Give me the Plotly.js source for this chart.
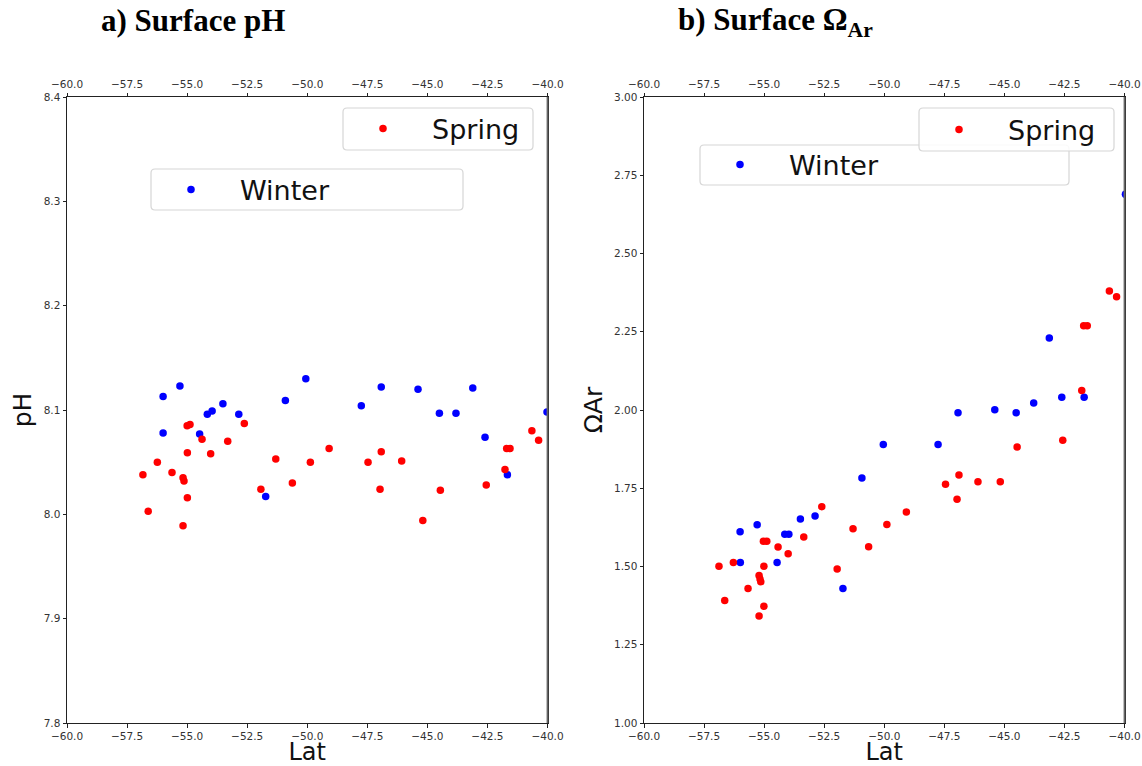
<!DOCTYPE html>
<html>
<head>
<meta charset="utf-8">
<script src="https://cdn.plot.ly/plotly-3.0.1.min.js"></script>
<style>html,body{margin:0;padding:0;background:#fff;}#chart{width:1142px;height:766px;}</style>
</head>
<body>
<div id="chart"></div>
<script>
// ---------- data ----------
// a) Surface pH
const phWinterLat = [-56.00, -55.30, -56.00, -54.48, -54.16, -53.96, -53.51, -52.85, -51.73, -50.91,
                     -50.06, -47.75, -46.92, -45.39, -44.50, -43.81, -43.11, -42.60, -41.67, -40.02];
const phWinter    = [8.113, 8.123, 8.078, 8.077, 8.096, 8.099, 8.106, 8.096, 8.017, 8.109,
                     8.130, 8.104, 8.122, 8.120, 8.097, 8.097, 8.121, 8.074, 8.038, 8.098];
const phSpringLat = [-56.84, -56.62, -56.24, -55.63, -55.17, -55.13, -55.17, -54.99, -54.99, -55.00,
                     -54.88, -54.38, -54.02, -53.31, -52.62, -51.93, -51.31, -50.62, -49.87, -49.09,
                     -47.47, -46.97, -46.92, -46.07, -45.19, -44.46, -42.55, -41.77, -41.70, -41.56,
                     -40.65, -40.37];
const phSpring    = [8.038, 8.003, 8.050, 8.040, 8.035, 8.032, 7.989, 8.016, 8.059, 8.085,
                     8.086, 8.072, 8.058, 8.070, 8.087, 8.024, 8.053, 8.030, 8.050, 8.063,
                     8.050, 8.024, 8.060, 8.051, 7.994, 8.023, 8.028, 8.043, 8.063, 8.063,
                     8.080, 8.071];
// b) Surface Omega Ar
const arWinterLat = [-55.99, -56.00, -55.29, -54.46, -54.14, -53.97, -53.49, -52.88, -51.72, -50.93,
                     -50.04, -47.76, -46.93, -45.40, -44.51, -43.78, -43.13, -42.61, -41.68, -39.96];
const arWinter    = [1.513, 1.611, 1.633, 1.513, 1.603, 1.603, 1.652, 1.661, 1.430, 1.783,
                     1.890, 1.890, 1.991, 2.001, 1.991, 2.022, 2.230, 2.041, 2.041, 2.689];
const arSpringLat = [-56.88, -56.64, -56.28, -55.67, -55.21, -55.17, -55.14, -55.21, -55.01, -55.01,
                     -55.03, -54.89, -54.42, -54.00, -53.35, -52.60, -51.96, -51.30, -50.65, -49.89,
                     -49.08, -47.45, -46.97, -46.89, -46.10, -45.17, -44.47, -42.57, -41.78, -41.70,
                     -41.55, -40.63, -40.33];
const arSpring    = [1.501, 1.391, 1.513, 1.430, 1.471, 1.460, 1.451, 1.342, 1.373, 1.501,
                     1.581, 1.581, 1.562, 1.541, 1.594, 1.691, 1.492, 1.621, 1.563, 1.634,
                     1.674, 1.763, 1.715, 1.792, 1.771, 1.771, 1.882, 1.903, 2.062, 2.269,
                     2.269, 2.380, 2.362];

const seriesNames = ['Winter', 'Spring'];
const panelTitles = ['a) Surface pH', 'b) Surface Ω<sub>Ar</sub>'];
const xTitle = 'Lat';
const yTitles = ['pH', 'ΩAr'];

// ---------- layout helpers ----------
const W = 1142, H = 766;
const fx = p => p / W;
const fy = p => 1 - p / H;
const BLUE = '#0000ff', RED = '#ff0000';
const SANS = 'DejaVu Sans, sans-serif';

function roundBox(x0, y0, x1, y1, r) {
  const X0 = fx(x0), X1 = fx(x1), Y0 = fy(y0), Y1 = fy(y1);
  const rx = r / W, ry = r / H;
  return 'M' + (X0 + rx) + ',' + Y0 +
    ' L' + (X1 - rx) + ',' + Y0 + ' Q' + X1 + ',' + Y0 + ' ' + X1 + ',' + (Y0 - ry) +
    ' L' + X1 + ',' + (Y1 + ry) + ' Q' + X1 + ',' + Y1 + ' ' + (X1 - rx) + ',' + Y1 +
    ' L' + (X0 + rx) + ',' + Y1 + ' Q' + X0 + ',' + Y1 + ' ' + X0 + ',' + (Y1 + ry) +
    ' L' + X0 + ',' + (Y0 - ry) + ' Q' + X0 + ',' + Y0 + ' ' + (X0 + rx) + ',' + Y0 + ' Z';
}
function boxShape(x0, y0, x1, y1) {
  return {type: 'path', xref: 'paper', yref: 'paper', path: roundBox(x0, y0, x1, y1, 4),
          fillcolor: 'rgba(255,255,255,0.85)', line: {color: '#d6d6d6', width: 1.2}, layer: 'above'};
}
function rightSpine(xp) {
  return {type: 'line', xref: 'paper', yref: 'paper', x0: fx(xp), x1: fx(xp), y0: fy(723), y1: fy(97),
          line: {color: '#666', width: 1.8}, layer: 'above'};
}

const mk = c => ({color: c, size: 7.5, line: {width: 0}});

const traces = [
  {type: 'scatter', mode: 'markers', x: phWinterLat, y: phWinter, name: seriesNames[0],
   marker: mk(BLUE), xaxis: 'x', yaxis: 'y', legend: 'legend2', hoverinfo: 'x+y'},
  {type: 'scatter', mode: 'markers', x: phSpringLat, y: phSpring, name: seriesNames[1],
   marker: mk(RED), xaxis: 'x', yaxis: 'y', legend: 'legend', hoverinfo: 'x+y'},
  {type: 'scatter', mode: 'markers', x: arWinterLat, y: arWinter, name: seriesNames[0],
   marker: mk(BLUE), xaxis: 'x2', yaxis: 'y2', legend: 'legend4', hoverinfo: 'x+y'},
  {type: 'scatter', mode: 'markers', x: arSpringLat, y: arSpring, name: seriesNames[1],
   marker: mk(RED), xaxis: 'x2', yaxis: 'y2', legend: 'legend3', hoverinfo: 'x+y'},
  // empty helpers so the top axes are drawn
  {type: 'scatter', mode: 'markers', x: [], y: [], xaxis: 'x3', yaxis: 'y', showlegend: false, hoverinfo: 'skip'},
  {type: 'scatter', mode: 'markers', x: [], y: [], xaxis: 'x4', yaxis: 'y2', showlegend: false, hoverinfo: 'skip'}
];

const tickFont = {family: SANS, size: 10.5, color: '#333'};
const axisTitleFont = {family: SANS, size: 24, color: '#111'};
function xAxis(domain, anchor, extra) {
  return Object.assign({
    domain: domain, anchor: anchor, range: [-60, -40], tick0: -60, dtick: 2.5, tickformat: '.1f',
    ticks: 'outside', ticklen: 3.5, tickwidth: 1, tickcolor: '#222', showgrid: false, zeroline: false,
    showline: true, linecolor: '#222', linewidth: 1, mirror: true, tickfont: tickFont,
    fixedrange: true
  }, extra);
}
function topAxis(over, anchor) {
  return {overlaying: over, anchor: anchor, side: 'top', range: [-60, -40], tick0: -60, dtick: 2.5,
    tickformat: '.1f', ticks: 'outside', ticklen: 3.5, tickwidth: 1, tickcolor: '#222',
    showgrid: false, zeroline: false, showline: false, tickfont: tickFont, fixedrange: true};
}
function yAxis(domain, anchor, range, dtick, fmt, title) {
  return {domain: domain, anchor: anchor, range: range, dtick: dtick, tick0: range[0], tickformat: fmt,
    ticks: 'outside', ticklen: 3.5, tickwidth: 1, tickcolor: '#222', showgrid: false, zeroline: false,
    showline: true, linecolor: '#222', linewidth: 1, mirror: true, tickfont: tickFont, fixedrange: true,
    title: {text: title, font: {family: SANS, size: 25, color: '#111'}, standoff: 4}};
}

const yDom = [fy(723), fy(97)];
const legendBase = {bgcolor: 'rgba(0,0,0,0)', borderwidth: 0, xanchor: 'left', yanchor: 'middle',
                    itemwidth: 88, font: {family: SANS, size: 27, color: '#111'}, itemclick: false, itemdoubleclick: false};

const layout = {
  width: W, height: H,
  margin: {l: 0, r: 0, t: 0, b: 0},
  paper_bgcolor: '#fff', plot_bgcolor: '#fff',
  showlegend: true,
  xaxis: xAxis([fx(67), fx(547.5)], 'y', {title: {text: xTitle, font: axisTitleFont, standoff: 10}}),
  xaxis2: xAxis([fx(644), fx(1124.5)], 'y2', {title: {text: xTitle, font: axisTitleFont, standoff: 10}}),
  xaxis3: topAxis('x', 'y'),
  xaxis4: topAxis('x2', 'y2'),
  yaxis: yAxis(yDom, 'x', [7.8, 8.4], 0.1, '.1f', yTitles[0]),
  yaxis2: yAxis(yDom, 'x2', [1, 3], 0.25, '.2f', yTitles[1]),
  legend:  Object.assign({}, legendBase, {x: fx(343 - 9), y: fy(129)}),
  legend2: Object.assign({}, legendBase, {x: fx(151 - 9), y: fy(190)}),
  legend3: Object.assign({}, legendBase, {x: fx(919 - 9), y: fy(130)}),
  legend4: Object.assign({}, legendBase, {x: fx(700 - 9), y: fy(165)}),
  shapes: [
    rightSpine(547.5),
    rightSpine(1124.5),
    boxShape(151, 169, 463, 210),
    boxShape(343, 108, 533, 150),
    boxShape(700, 145, 1069, 185),
    boxShape(919, 108, 1114, 151)
  ],
  annotations: [
    {text: panelTitles[0], xref: 'paper', yref: 'paper', x: fx(193), y: fy(20), xanchor: 'center', yanchor: 'middle',
     showarrow: false, font: {family: 'Liberation Serif, Times New Roman, serif', size: 31, color: '#000', weight: 'bold'}},
    {text: panelTitles[1], xref: 'paper', yref: 'paper', x: fx(775), y: fy(22), xanchor: 'center', yanchor: 'middle',
     showarrow: false, font: {family: 'Liberation Serif, Times New Roman, serif', size: 31, color: '#000', weight: 'bold'}}
  ]
};

Plotly.newPlot('chart', traces, layout, {displayModeBar: false, staticPlot: false, responsive: false});
</script>
</body>
</html>
